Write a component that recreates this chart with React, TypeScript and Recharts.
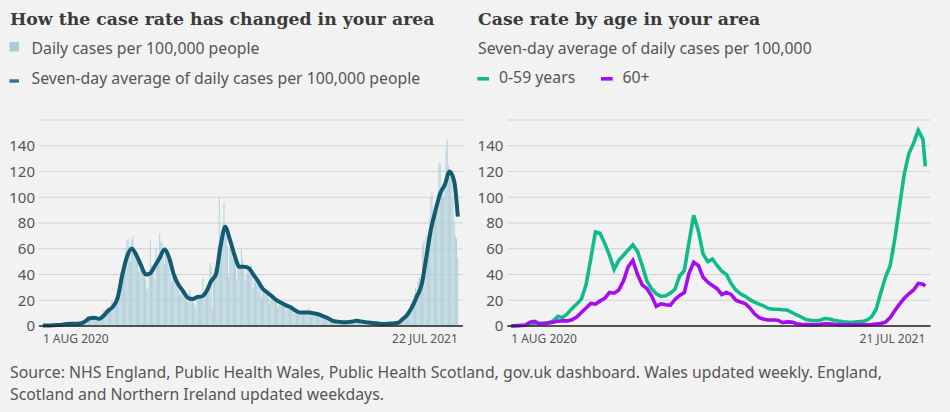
import { ComposedChart, LineChart, Bar, Line, XAxis, YAxis, CartesianGrid } from 'recharts'

// Daily cases per 100,000, one value per day from 1 Aug 2020 to 22 Jul 2021 (rows are weeks)
const DAILY_CASES = [
  0.5, 0.2, 0.3, 0.6, 0.4, 0.2, 0.5,
  0.8, 0.4, 0.5, 0.9, 0.7, 0.3, 0.6,
  1.4, 0.8, 1.0, 1.8, 1.5, 0.7, 1.2,
  2.4, 1.5, 1.6, 2.6, 2.0, 1.1, 1.7,
  2.6, 1.8, 2.2, 3.5, 3.0, 1.6, 2.4,
  4.5, 3.8, 5.5, 8.0, 7.0, 4.5, 6.0,
  7.5, 5.0, 6.0, 7.0, 6.5, 4.0, 5.5,
  7.0, 6.5, 9.0, 12, 12.5, 8.0, 10,
  14, 12, 15, 19, 18, 13, 16,
  22, 24, 30, 38, 42, 35, 48,
  52, 60, 66, 68, 62, 50, 67,
  70, 62, 58, 55, 50, 42, 46,
  52, 44, 40, 38, 36, 28, 30,
  44, 67, 47, 45, 40, 35, 61,
  50, 55, 72, 66, 64, 55, 48,
  62, 58, 52, 46, 40, 34, 38,
  44, 40, 34, 30, 28, 24, 26,
  30, 27, 24, 22, 20, 18, 25,
  28, 22, 20, 18, 16, 14, 22,
  24, 22, 21, 20, 37, 18, 24,
  30, 26, 35, 49, 46, 13, 40,
  45, 40, 50, 62, 100, 64, 70,
  80, 96, 75, 70, 62, 38, 60,
  66, 58, 55, 52, 45, 36, 48,
  50, 46, 60, 52, 44, 36, 40,
  48, 44, 40, 48, 42, 30, 36,
  40, 36, 34, 32, 28, 22, 26,
  30, 28, 26, 25, 22, 17, 20,
  25, 23, 22, 20, 18, 14, 17,
  20, 19, 18, 17, 15, 12, 14,
  17, 16, 15, 14, 12, 10, 12,
  14, 13, 12, 11, 10, 8, 10,
  12, 11, 11, 14, 10, 8, 10,
  11, 10, 10, 9, 9, 7, 8,
  9, 8, 8, 7, 6, 5, 6,
  6, 5, 5, 4, 4, 3, 3.5,
  4, 3.5, 3.5, 3, 3, 2.5, 3,
  3.5, 3, 3.2, 3, 3.5, 2.5, 3.5,
  4.5, 4.2, 4, 4.2, 3.8, 3, 3.5,
  3.8, 3.4, 3.2, 3, 2.8, 2.2, 2.6,
  3, 2.6, 2.4, 2.3, 2, 1.7, 2,
  2.2, 1.9, 1.8, 1.7, 1.6, 1.3, 1.5,
  2, 1.8, 1.9, 2, 1.9, 1.5, 1.8,
  2.6, 2.4, 2.6, 3, 3.5, 3, 4.5,
  7, 6, 8, 10, 12, 9, 13,
  17, 15, 18, 25, 30, 22, 35,
  38, 36, 40, 63, 66, 50, 70,
  70, 72, 84, 100, 104, 80, 92,
  95, 92, 105, 127, 126, 100, 110,
  100, 108, 138, 145, 125, 115, 120,
  115, 100, 82, 70, 68, 53,
]

// Seven-day average, read every 4th day, last value is the final day
const SEVEN_DAY_AVG = [
  0.3, 0.3, 0.5, 0.7, 1, 1.5, 1.8, 1.8, 2, 3.5,
  6, 6.5, 5.5, 8, 12, 15, 22, 40, 54, 60,
  55, 47, 40, 41, 47, 53, 59.5, 53, 40, 32,
  27, 22, 21, 22.5, 23, 27, 35, 40, 62, 77,
  67, 55, 46, 46, 45, 40, 35, 29, 26, 23,
  20, 18, 16, 14.5, 12, 10.5, 10.5, 10.4, 9.8, 9,
  7.5, 6, 4, 3.4, 3, 2.9, 3.3, 4, 3.6, 3,
  2.6, 2.2, 1.8, 1.6, 1.8, 2, 2.5, 5.5, 9, 15,
  23, 32, 53, 75, 90, 103, 110, 120, 112, 85,
]

// Case rate by age, seven-day average, every 4th day to 21 Jul 2021
const AGE_0_59 = [
  0, 0.3, 0.5, 0.8, 1.2, 1.8, 2, 2.3, 2.5, 4,
  7.5, 6.5, 9.5, 13.5, 17, 21, 32, 52, 73, 72,
  64, 55, 44, 51, 55, 59, 63, 58, 47, 35,
  29, 25, 23, 23.5, 25.5, 28.5, 39, 43, 65, 86,
  74, 56, 50, 52, 47, 42.5, 40, 33, 28, 25,
  23, 20.5, 18.5, 17, 15.5, 13.5, 13, 13, 12.6, 12.4,
  10.5, 8.7, 7, 5, 4.5, 4.1, 4.5, 5.7, 5.5, 4.5,
  3.8, 3.3, 3, 2.9, 3.2, 3.4, 4.5, 7, 13, 26,
  38, 47, 68, 93, 118, 134, 142, 152, 145, 124,
]
const AGE_60_PLUS = [
  0, 0.2, 0.4, 0.6, 3, 3.6, 1.8, 1.8, 2.4, 3,
  3.8, 4, 4, 4.8, 7, 10.5, 14, 17.5, 17, 19.5,
  21.5, 26, 25.5, 28, 35, 46, 51, 40, 32, 29,
  23.5, 15.3, 17.2, 16.5, 16, 20.6, 23.8, 26, 41, 49.5,
  47, 38, 34, 31.5, 29, 24.5, 26, 24.5, 20, 18.7,
  17.5, 14, 9.5, 6.5, 5.2, 4.7, 4.7, 4.5, 2.7, 3.2,
  3, 1.8, 1.3, 1.2, 1.1, 1, 1.3, 1.8, 1.8, 1.3,
  1, 1, 1, 1, 1, 1, 1, 1.2, 1.6, 2,
  3, 6.5, 12, 17, 21.5, 25, 28, 33, 32.5, 31,
]

const Y_TICKS = [0, 20, 40, 60, 80, 100, 120, 140]
const LEFT_DATE_LABELS = ['1 AUG 2020', '22 JUL 2021']
const RIGHT_DATE_LABELS = ['1 AUG 2020', '21 JUL 2021']
const SAMPLE_STEP = 4
const LEFT_LAST_DAY = DAILY_CASES.length - 1
const RIGHT_LAST_DAY = LEFT_LAST_DAY - 1

const sampleDay = (i: number, n: number, lastDay: number) => (i === n - 1 ? lastDay : i * SAMPLE_STEP)

const avgByDay = new Map(SEVEN_DAY_AVG.map((v, i) => [sampleDay(i, SEVEN_DAY_AVG.length, LEFT_LAST_DAY), v]))
const leftData = DAILY_CASES.map((v, day) => ({ day, daily: v, avg: avgByDay.get(day) ?? null }))
const rightData = AGE_0_59.map((v, i) => ({
  day: sampleDay(i, AGE_0_59.length, RIGHT_LAST_DAY),
  young: v,
  old: AGE_60_PLUS[i],
}))

const SANS = '"Noto Sans", "Open Sans", sans-serif'
const SERIF = '"DejaVu Serif", serif'
const GREY = '#555'
const TEXT_SIZE = 15.8

// eslint-disable-next-line @typescript-eslint/no-explicit-any
function DateTick({ x, y, payload, labels }: any) {
  const first = payload.value === 0
  return (
    <text x={x} y={y + 17} textAnchor={first ? 'start' : 'end'} fontSize={12} fill={GREY} fontFamily={SANS}>
      {first ? labels[0] : labels[1]}
    </text>
  )
}

const yAxisProps = {
  domain: [0, 160] as [number, number],
  ticks: Y_TICKS,
  axisLine: false,
  tickLine: false,
  tickSize: 0,
  tickMargin: 4,
  tick: { fontSize: 15, fill: GREY, fontFamily: SANS },
  interval: 0 as const,
}

export default function App() {
  return (
    <div style={{ position: 'relative', width: 950, height: 412, background: '#f2f2f2', overflow: 'hidden' }}>
      <style>{'body{margin:0}'}</style>
      <svg width={950} height={100} style={{ position: 'absolute', left: 0, top: 0 }}>
        <text x={10} y={25} fontFamily={SERIF} fontWeight={700} fontSize={17.3} fill="#3a3a3a">
          How the case rate has changed in your area
        </text>
        <rect x={9.5} y={42} width={9.5} height={9.5} fill="#a9ccd9" />
        <text x={31.5} y={54.3} fontFamily={SANS} fontSize={TEXT_SIZE} fill={GREY}>Daily cases per 100,000 people</text>
        <rect x={9.5} y={79.3} width={9.5} height={3.4} fill="#2b7691" />
        <text x={31.5} y={84.3} fontFamily={SANS} fontSize={TEXT_SIZE} fill={GREY}>
          Seven-day average of daily cases per 100,000 people
        </text>

        <text x={478} y={25} fontFamily={SERIF} fontWeight={700} fontSize={17.3} fill="#3a3a3a">
          Case rate by age in your area
        </text>
        <text x={478} y={54.3} fontFamily={SANS} fontSize={TEXT_SIZE} fill={GREY}>
          Seven-day average of daily cases per 100,000
        </text>
        <rect x={477.3} y={77} width={11.7} height={3.6} fill="#10bb8b" />
        <text x={499} y={83.3} fontFamily={SANS} fontSize={TEXT_SIZE} fill={GREY}>0-59 years</text>
        <rect x={601} y={77} width={11.7} height={3.6} fill="#a70cf0" />
        <text x={622.5} y={83.3} fontFamily={SANS} fontSize={TEXT_SIZE} fill={GREY}>60+</text>
      </svg>

      <div style={{ position: 'absolute', left: 0, top: 100 }}>
        <ComposedChart width={470} height={256} data={leftData} margin={{ top: 20, right: 7, bottom: 0, left: 0 }}>
          <CartesianGrid vertical={false} stroke="#d2d2d2" strokeWidth={1.2} />
          <XAxis
            dataKey="day"
            type="number"
            domain={[-3.34, 359.45]}
            ticks={[0, LEFT_LAST_DAY]}
            interval={0}
            height={30}
            tickLine={false}
            tickSize={0}
            tickMargin={0}
            axisLine={{ stroke: '#222', strokeWidth: 1.3 }}
            tick={(p: any) => <DateTick {...p} labels={LEFT_DATE_LABELS} />}
          />
          <YAxis width={39} {...yAxisProps} />
          <Bar dataKey="daily" fill="#b2d0db" barSize={1} isAnimationActive={false} />
          <Line
            dataKey="avg"
            type="monotone"
            connectNulls
            stroke="#125b70"
            strokeWidth={4}
            dot={false}
            isAnimationActive={false}
          />
        </ComposedChart>
      </div>

      <div style={{ position: 'absolute', left: 470, top: 100 }}>
        <LineChart width={470} height={256} data={rightData} margin={{ top: 20, right: 9.5, bottom: 0, left: 0 }}>
          <CartesianGrid vertical={false} stroke="#d2d2d2" strokeWidth={1.2} />
          <XAxis
            dataKey="day"
            type="number"
            domain={[-3.33, 358.45]}
            ticks={[0, RIGHT_LAST_DAY]}
            interval={0}
            height={30}
            tickLine={false}
            tickSize={0}
            tickMargin={0}
            axisLine={{ stroke: '#222', strokeWidth: 1.3 }}
            tick={(p: any) => <DateTick {...p} labels={RIGHT_DATE_LABELS} />}
          />
          <YAxis width={37.3} {...yAxisProps} />
          <Line dataKey="young" type="linear" stroke="#10bb8b" strokeWidth={3.6} dot={false} isAnimationActive={false} />
          <Line dataKey="old" type="linear" stroke="#a70cf0" strokeWidth={3.6} dot={false} isAnimationActive={false} />
        </LineChart>
      </div>

      <svg width={950} height={62} style={{ position: 'absolute', left: 0, top: 350 }}>
        <text x={10} y={28} fontFamily={SANS} fontSize={TEXT_SIZE} fill={GREY}>
          Source: NHS England, Public Health Wales, Public Health Scotland, gov.uk dashboard. Wales updated weekly. England,
        </text>
        <text x={10} y={50} fontFamily={SANS} fontSize={TEXT_SIZE} fill={GREY}>
          Scotland and Northern Ireland updated weekdays.
        </text>
      </svg>
    </div>
  )
}
